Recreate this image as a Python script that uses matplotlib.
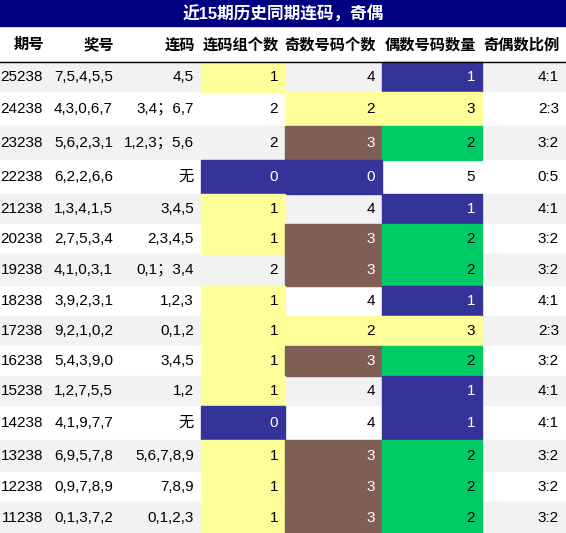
import matplotlib.pyplot as plt
from matplotlib.patches import Rectangle

plt.rcParams['font.family'] = ['Liberation Sans', 'Noto Sans CJK SC', 'DejaVu Sans']

title = '近15期历史同期连码，奇偶'
headers = ['期号', '奖号', '连码', '连码组个数', '奇数号码个数', '偶数号码数量', '奇偶数比例']
periods = ['25238', '24238', '23238', '22238', '21238', '20238', '19238', '18238',
           '17238', '16238', '15238', '14238', '13238', '12238', '11238']
draws = ['7,5,4,5,5', '4,3,0,6,7', '5,6,2,3,1', '6,2,2,6,6', '1,3,4,1,5', '2,7,5,3,4',
         '4,1,0,3,1', '3,9,2,3,1', '9,2,1,0,2', '5,4,3,9,0', '1,2,7,5,5', '4,1,9,7,7',
         '6,9,5,7,8', '0,9,7,8,9', '0,1,3,7,2']
runs = ['4,5', '3,4；6,7', '1,2,3；5,6', '无', '3,4,5', '2,3,4,5', '0,1；3,4', '1,2,3',
        '0,1,2', '3,4,5', '1,2', '无', '5,6,7,8,9', '7,8,9', '0,1,2,3']
run_count = [1, 2, 2, 0, 1, 1, 2, 1, 1, 1, 1, 0, 1, 1, 1]
odd_count = [4, 2, 3, 0, 4, 3, 3, 4, 2, 3, 4, 4, 3, 3, 3]
even_count = [1, 3, 2, 5, 1, 2, 2, 1, 3, 2, 1, 1, 2, 2, 2]
ratio = ['4:1', '2:3', '3:2', '0:5', '4:1', '3:2', '3:2', '4:1', '2:3', '3:2', '4:1', '4:1',
         '3:2', '3:2', '3:2']

YEL, NAVY, BROWN, GREEN = '#ffff99', '#333399', '#7f5f55', '#00cc66'
run_colors = {0: NAVY, 1: YEL, 2: None}
odd_colors = {0: NAVY, 2: YEL, 3: BROWN, 4: None}
even_colors = {1: NAVY, 2: GREEN, 3: YEL, 5: None}

col_edges = [0, 50, 120, 201, 285, 382, 482, 566]
row_h = [30, 34, 34, 34, 30, 30, 32, 30, 30, 30, 30, 34, 32, 30, 31]

fig = plt.figure(figsize=(5.66, 5.33), dpi=100)
ax = fig.add_axes([0, 0, 1, 1])
ax.set_xlim(0, 566)
ax.set_ylim(533, 0)
ax.axis('off')

ax.add_patch(Rectangle((0, 0), 566, 26, color='#000080'))
ax.text(283, 14, title, color='white', fontsize=12, fontweight='bold', ha='center', va='center')
for j, h in enumerate(headers):
    ax.text(col_edges[j + 1] - 6, 45, h, fontsize=11, fontweight='bold', ha='right', va='center')
ax.plot([0, 566], [61.5, 61.5], color='black', lw=1)

y = 62
for i in range(len(periods)):
    h = row_h[i]
    bg = '#f2f2f2' if i % 2 == 0 else 'white'
    ax.add_patch(Rectangle((0, y), 566, h, color=bg, zorder=0))
    cells = [periods[i], draws[i], runs[i], str(run_count[i]), str(odd_count[i]),
             str(even_count[i]), ratio[i]]
    fills = [None, None, None, run_colors[run_count[i]], odd_colors[odd_count[i]],
             even_colors[even_count[i]], None]
    for j, txt in enumerate(cells):
        c = fills[j]
        if c:
            ax.add_patch(Rectangle((col_edges[j], y), col_edges[j + 1] - col_edges[j], h,
                                   color=c, zorder=1))
        tc = 'white' if c in (NAVY, BROWN) else 'black'
        ax.text(col_edges[j + 1] - 7, y + h / 2, txt, fontsize=11, color=tc,
                ha='right', va='center', zorder=2)
    y += h

fig.savefig('out.png', dpi=100)
